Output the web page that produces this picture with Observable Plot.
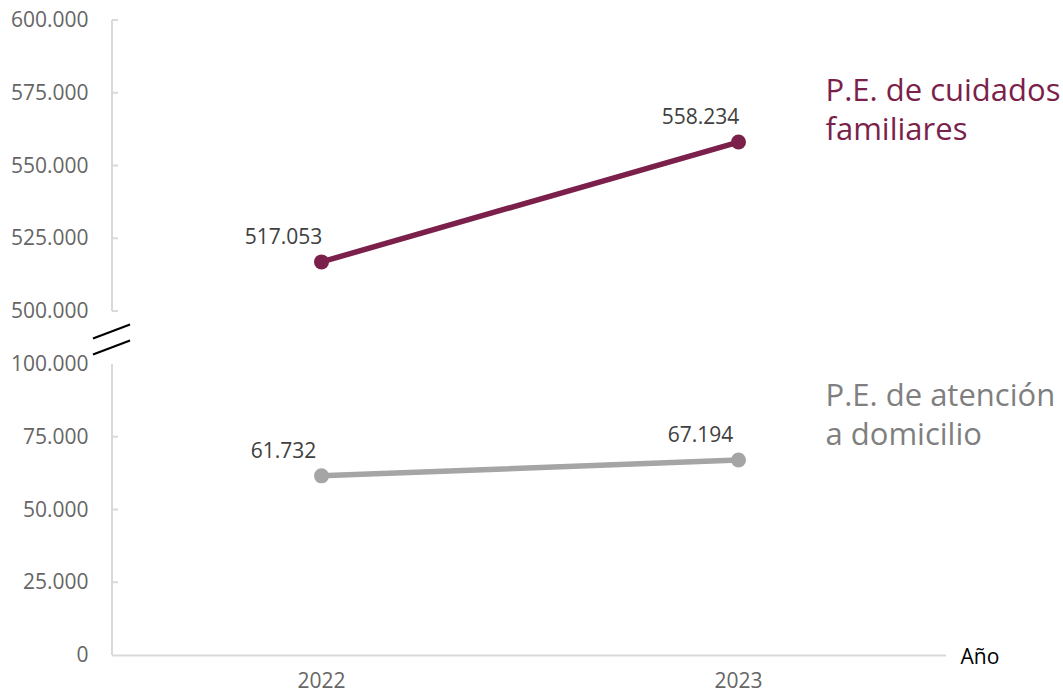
<!DOCTYPE html>
<html><head><meta charset="utf-8">
<script src="https://cdn.jsdelivr.net/npm/d3@7"></script>
<script src="https://cdn.jsdelivr.net/npm/@observablehq/plot@0.6"></script>
<style>body{margin:0;background:#fff;}</style>
</head><body><div id="chart"></div>
<script>
// ---- data ----
const years = ["2022", "2023"];
const cuidados = [517053, 558234];
const domicilio = [61732, 67194];
const seriesKeys = ["cuidados", "domicilio"];
const seriesNames = ["P.E. de cuidados\nfamiliares", "P.E. de atención\na domicilio"];
const seriesColors = ["#7b1f4b", "#a5a5a5"];
const lowerTicks = [0, 25000, 50000, 75000, 100000];
const upperTicks = [500000, 525000, 550000, 575000, 600000];

// ---- broken axis transform ----
const LOWER_MAX = 100000, UPPER_MIN = 500000, UPPER_MAX = 600000, GAP = 18200;
const t = v => v >= UPPER_MIN ? v - UPPER_MIN + LOWER_MAX + GAP : v;
const inv = u => u > LOWER_MAX ? u - LOWER_MAX - GAP + UPPER_MIN : u;

const locale = d3.formatLocale({decimal: ",", thousands: ".", grouping: [3], currency: ["", ""]});
const fmt = locale.format(",");

const data = [];
years.forEach((y, i) => {
  data.push({year: y, series: "cuidados", value: cuidados[i]});
  data.push({year: y, series: "domicilio", value: domicilio[i]});
});
const lastYear = years[years.length - 1];

function brokenAxis(index, scales, values, dim) {
  const g = d3.create("svg:g");
  const x0 = dim.marginLeft;
  const y = scales.y;
  const segs = [[0, LOWER_MAX], [UPPER_MIN, UPPER_MAX]];
  segs.forEach(([a, b]) => {
    g.append("line").attr("x1", x0).attr("x2", x0)
      .attr("y1", y(t(a))).attr("y2", y(t(b)))
      .attr("stroke", "#d9d9d9").attr("stroke-width", 2);
  });
  [...lowerTicks.filter(v => v > 0 && v < LOWER_MAX), ...upperTicks].forEach(v => {
    g.append("line").attr("x1", x0).attr("x2", x0 + 6)
      .attr("y1", y(t(v))).attr("y2", y(t(v)))
      .attr("stroke", "#d9d9d9").attr("stroke-width", 2);
  });
  const gm = (y(t(LOWER_MAX)) + y(t(UPPER_MIN))) / 2;
  [[-6], [10]].forEach(([off]) => {
    g.append("line")
      .attr("x1", x0 - 19).attr("y1", gm + off + 7)
      .attr("x2", x0 + 18).attr("y2", gm + off - 7)
      .attr("stroke", "#000").attr("stroke-width", 2.2);
  });
  return g.node();
}

const plot = Plot.plot({
  width: 1063,
  height: 694,
  marginLeft: 112,
  marginRight: 117,
  marginTop: 20,
  marginBottom: 39,
  style: {fontFamily: "'Open Sans', sans-serif", fontSize: "21px", background: "#fff"},
  x: {type: "point", domain: years, padding: 0.5, label: null},
  y: {domain: [0, t(UPPER_MAX)], label: null},
  marks: [
    Plot.ruleY([0], {stroke: "#d9d9d9", strokeWidth: 2}),
    brokenAxis,
    Plot.axisY({ticks: [...lowerTicks, ...upperTicks].map(t), tickFormat: u => fmt(Math.round(inv(u))),
      tickSize: 0, tickPadding: 24, color: "#666", label: null}),
    Plot.axisX({tickSize: 0, tickPadding: 18, color: "#666", label: null}),
    Plot.line(data, {x: "year", y: d => t(d.value), z: "series",
      stroke: d => seriesColors[seriesKeys.indexOf(d.series)], strokeWidth: 5.5}),
    Plot.dot(data, {x: "year", y: d => t(d.value), r: 7.5,
      fill: d => seriesColors[seriesKeys.indexOf(d.series)], stroke: "none"}),
    Plot.text(data, {x: "year", y: d => t(d.value), text: d => fmt(d.value),
      dx: -38, dy: -25, fill: "#404040"}),
    Plot.text(data.filter(d => d.year === lastYear && d.series === "cuidados"), {
      x: "year", y: d => t(d.value), text: () => seriesNames[0],
      textAnchor: "start", dx: 87, dy: -34, lineHeight: 1.25,
      fill: seriesColors[0], fontSize: 31}),
    Plot.text(data.filter(d => d.year === lastYear && d.series === "domicilio"), {
      x: "year", y: d => t(d.value), text: () => seriesNames[1],
      textAnchor: "start", dx: 87, dy: -47, lineHeight: 1.25,
      fill: "#7f7f7f", fontSize: 31}),
    Plot.text(["Año"], {frameAnchor: "bottom-right", lineAnchor: "middle", dx: 14, dy: 2,
      textAnchor: "start", fill: "#000"})
  ]
});
document.getElementById("chart").appendChild(plot);
</script>
</body></html>
